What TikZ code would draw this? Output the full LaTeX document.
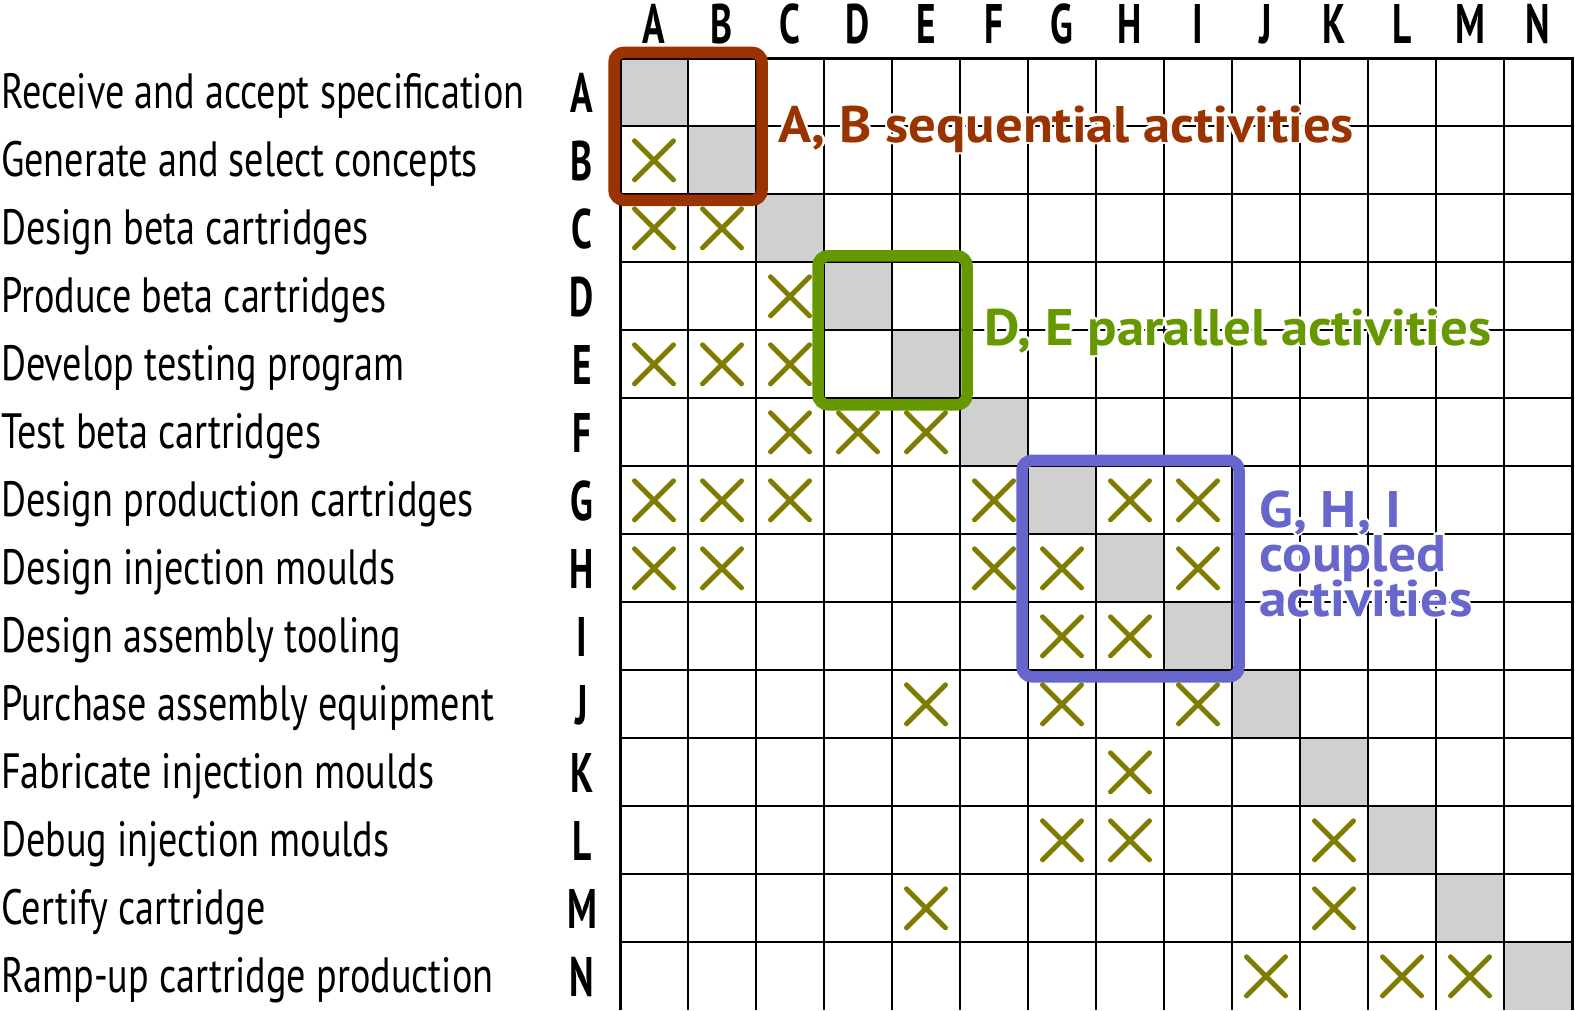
\documentclass[tikz,border=0pt]{standalone}
\usepackage{fontspec}
\setmainfont{PT Sans}
\newfontfamily\labelfont[FakeStretch=0.77]{PT Sans}
\newfontfamily\letterfont[FakeStretch=0.67]{PT Sans}
\newfontfamily\annotfont[FakeStretch=1.065]{PT Sans}
\newfontfamily\annotwidefont[FakeStretch=1.08]{PT Sans}

\definecolor{cellgrey}{RGB}{208,208,208}
\definecolor{markolive}{RGB}{128,124,0}
\definecolor{seqred}{RGB}{153,51,0}
\definecolor{pargreen}{RGB}{102,153,0}
\definecolor{cplblue}{RGB}{102,102,204}

% text with a thin white outline so it stays readable over the grid
\newcommand\halotext[5]{% name, position, colour, font, text
  \foreach \ang in {0,45,...,315}
    \node[annot,text=white,shift={(\ang:2.6)},font=#4] at (#2) {#5};
  \node[annot,text=#3,font=#4] (#1) at (#2) {#5};
}

\begin{document}
\begin{tikzpicture}[x=1pt,y=-1pt,
  gridline/.style={line width=2.2pt,black},
  frame/.style={line width=3pt,black},
  xmark/.style={draw=markolive,line width=5pt,line cap=round},
  groupbox/.style={line width=11.5pt,rounded corners=10pt},
  rowlabel/.style={anchor=base west,inner sep=0pt,font=\labelfont\fontsize{49.6}{50}\selectfont},
  letterlabel/.style={anchor=base,inner sep=0pt,font=\letterfont\bfseries\fontsize{55.7}{56}\selectfont},
  annot/.style={anchor=base west,inner sep=0pt}
]
\useasboundingbox (0,0) rectangle (1575,1010);
\fill[white] (0,0) rectangle (1575,1010);

% grid geometry: left 620, top 58.3, cell 68
\def\gx{620}
\def\gy{58.3}
\def\cw{68}

% diagonal cells
\foreach \k in {1,...,14}
  \fill[cellgrey] ({\gx+\cw*(\k-1)},{\gy+\cw*(\k-1)}) rectangle +(\cw,\cw);

% grid lines
\foreach \i in {1,...,13} {
  \draw[gridline] ({\gx+\cw*\i},\gy) -- ({\gx+\cw*\i},{\gy+14*\cw});
  \draw[gridline] (\gx,{\gy+\cw*\i}) -- ({\gx+14*\cw},{\gy+\cw*\i});
}
\draw[frame] (\gx,{\gy+14*\cw}) -- (\gx,\gy) -- ({\gx+14*\cw},\gy) -- ({\gx+14*\cw},{\gy+14*\cw});

% activity names
\foreach \t [count=\j] in {Receive and accept specification,
  Generate and select concepts, Design beta cartridges,
  Produce beta cartridges, Develop testing program,
  Test beta cartridges, Design production cartridges,
  Design injection moulds, Design assembly tooling,
  Purchase assembly equipment, Fabricate injection moulds,
  Debug injection moulds, Certify cartridge,
  Ramp-up cartridge production}
  \node[rowlabel] (name\j) at (1,{\gy+\cw*(\j-0.5)+16}) {\t};

% row and column letters
\foreach \l [count=\j] in {A,B,C,D,E,F,G,H,I,J,K,L,M,N} {
  \node[letterlabel] (row\l) at (582,{\gy+\cw*(\j-0.5)+20}) {\l};
  \node[letterlabel] (col\l) at ({\gx+\cw*(\j-0.5)},43) {\l};
}

% dependency marks: row/column
\foreach \r/\c in {2/1,3/1,3/2,4/3,5/1,5/2,5/3,6/3,6/4,6/5,
  7/1,7/2,7/3,7/6,7/8,7/9,8/1,8/2,8/6,8/7,8/9,9/7,9/8,
  10/5,10/7,10/9,11/8,12/7,12/8,12/11,13/5,13/11,14/10,14/12,14/13} {
  \pgfmathsetmacro\cx{\gx+\cw*(\c-0.5)}
  \pgfmathsetmacro\cy{\gy+\cw*(\r-0.5)}
  \draw[xmark] ({\cx-19.5},{\cy-19.5}) -- ({\cx+19.5},{\cy+19.5})
               ({\cx-19.5},{\cy+19.5}) -- ({\cx+19.5},{\cy-19.5});
}

% groups
\draw[groupbox,seqred] ({\gx-6},{\gy-6}) rectangle ({\gx+2*\cw+6},{\gy+2*\cw+6});
\draw[groupbox,pargreen] ({\gx+3*\cw-6},{\gy+3*\cw-6.5}) rectangle ({\gx+5*\cw+7},{\gy+5*\cw+6.5});
\draw[groupbox,cplblue] ({\gx+6*\cw-6},{\gy+6*\cw-6}) rectangle ({\gx+9*\cw+7},{\gy+9*\cw+6.5});

% group captions
\halotext{seqtext}{778,142}{seqred}{\annotfont\bfseries\fontsize{51.4}{52}\selectfont}{A, B sequential activities}
\halotext{partext}{984,345}{pargreen}{\annotfont\bfseries\fontsize{51.4}{52}\selectfont}{D, E parallel activities}
\halotext{cpltextA}{1259,527}{cplblue}{\annotwidefont\bfseries\fontsize{51.4}{52}\selectfont}{G, H, I}
\halotext{cpltextB}{1259,571}{cplblue}{\annotwidefont\bfseries\fontsize{51.4}{52}\selectfont}{coupled}
\halotext{cpltextC}{1259,616}{cplblue}{\annotwidefont\bfseries\fontsize{51.4}{52}\selectfont}{activities}
\end{tikzpicture}
\end{document}
